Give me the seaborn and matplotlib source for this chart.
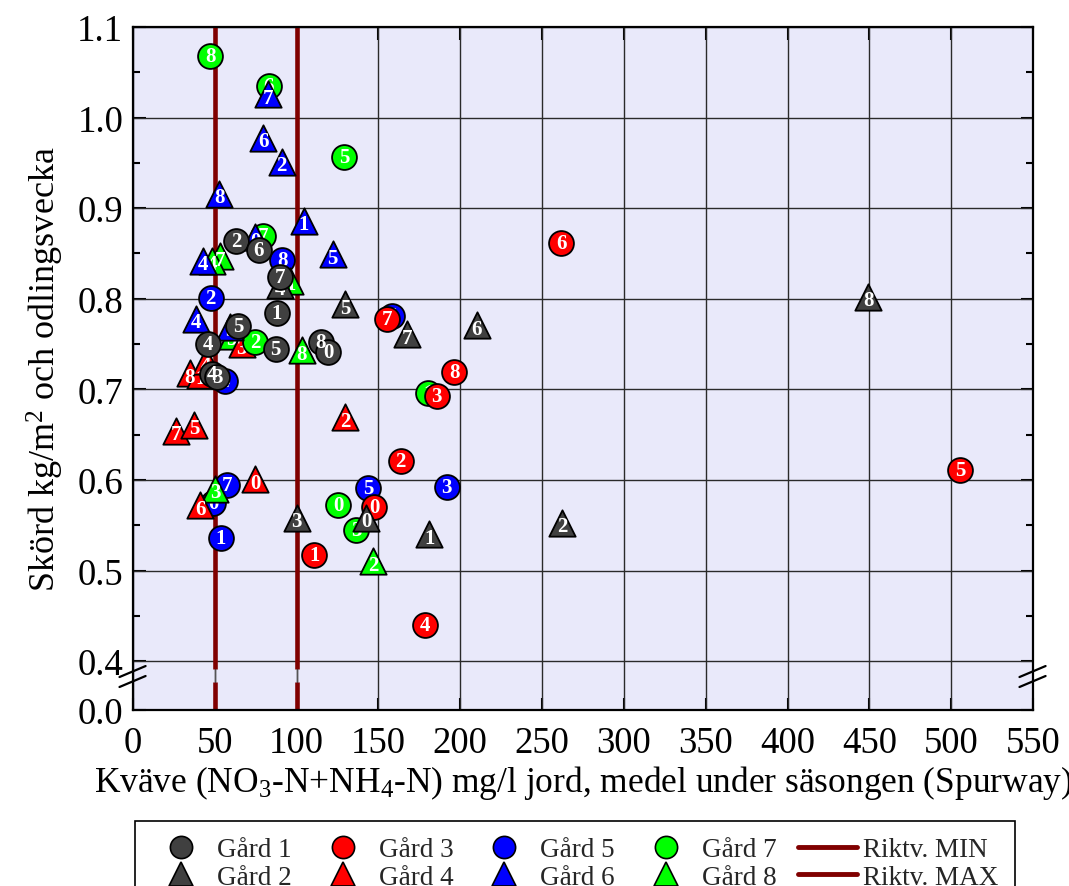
import numpy as np
import pandas as pd
import matplotlib
matplotlib.use("Agg")
import matplotlib.pyplot as plt
from matplotlib.lines import Line2D
from matplotlib.ticker import FixedLocator
import seaborn as sns

# --- data: nitrogen (mg/l soil) vs yield per growing week, one list set per farm ---
gard1_x = [62.9, 76.8, 89.8, 87.8, 64.4, 46.0, 87.2, 114.7, 119.4, 48.0, 51.5]
gard1_y = [0.864, 0.854, 0.824, 0.784, 0.770, 0.750, 0.745, 0.752, 0.741, 0.717, 0.714]
gard1_lbl = ["2", "6", "7", "1", "5", "4", "5", "8", "0", "4", "3"]

gard2_x = [449.2, 210.0, 167.3, 129.6, 100.0, 142.4, 181.1, 262.2, 89.8]
gard2_y = [0.802, 0.771, 0.761, 0.794, 0.558, 0.558, 0.540, 0.553, 0.815]
gard2_lbl = ["8", "6", "7", "5", "3", "0", "1", "2", "4"]

gard3_x = [261.6, 155.0, 196.2, 185.6, 163.6, 147.3, 110.8, 178.4, 505.4]
gard3_y = [0.862, 0.778, 0.719, 0.693, 0.621, 0.570, 0.517, 0.440, 0.611]
gard3_lbl = ["6", "7", "8", "3", "2", "0", "1", "4", "5"]

gard4_x = [34.8, 41.0, 44.6, 66.4, 129.6, 26.1, 37.2, 74.6, 41.0]
gard4_y = [0.718, 0.716, 0.731, 0.750, 0.669, 0.654, 0.661, 0.601, 0.572]
gard4_lbl = ["8", "1", "4", "3", "2", "7", "5", "0", "6"]

gard5_x = [91.2, 47.5, 143.8, 191.7, 53.6, 57.3, 49.0, 158.0, 56.2]
gard5_y = [0.843, 0.801, 0.591, 0.592, 0.536, 0.594, 0.575, 0.781, 0.709]
gard5_lbl = ["8", "2", "5", "3", "1", "7", "0", "6", "4"]

gard6_x = [82.7, 79.6, 90.9, 52.6, 104.5, 122.0, 43.0, 38.5, 59.3, 74.6]
gard6_y = [1.026, 0.978, 0.951, 0.916, 0.886, 0.849, 0.842, 0.778, 0.769, 0.868]
gard6_lbl = ["7", "6", "2", "8", "1", "5", "4", "4", "3", "0"]

gard7_x = [47.3, 83.1, 129.0, 79.3, 74.6, 125.5, 136.3, 180.5]
gard7_y = [1.068, 1.035, 0.957, 0.869, 0.752, 0.572, 0.545, 0.696]
gard7_lbl = ["8", "6", "5", "7", "2", "0", "3", "1"]

gard8_x = [53.2, 48.0, 103.1, 50.1, 146.9, 96.0, 60.3]
gard8_y = [0.847, 0.842, 0.743, 0.590, 0.510, 0.820, 0.759]
gard8_lbl = ["7", "4", "8", "3", "2", "1", "5"]

# guideline values (Riktv. MIN / MAX)
riktv_min = 50
riktv_max = 100

farm_names = ["Gård 1", "Gård 2", "Gård 3", "Gård 4",
              "Gård 5", "Gård 6", "Gård 7", "Gård 8"]
farm_x = [gard1_x, gard2_x, gard3_x, gard4_x, gard5_x, gard6_x, gard7_x, gard8_x]
farm_y = [gard1_y, gard2_y, gard3_y, gard4_y, gard5_y, gard6_y, gard7_y, gard8_y]
farm_lbl = [gard1_lbl, gard2_lbl, gard3_lbl, gard4_lbl,
            gard5_lbl, gard6_lbl, gard7_lbl, gard8_lbl]

frames = []
for name, xs, ys, ls in zip(farm_names, farm_x, farm_y, farm_lbl):
    frames.append(pd.DataFrame({"farm": name, "kvave": xs, "skord": ys, "lbl": ls}))
df = pd.concat(frames, ignore_index=True)

# --- styling ---
colors = {"Gård 1": "#404040", "Gård 2": "#404040",
          "Gård 3": "#FF0000", "Gård 4": "#FF0000",
          "Gård 5": "#0000FF", "Gård 6": "#0000FF",
          "Gård 7": "#00FF00", "Gård 8": "#00FF00"}
markers = {n: ("o" if i % 2 == 0 else "^") for i, n in enumerate(farm_names)}
# stacking order of the farms (last drawn on top)
draw_order = ["Gård 5", "Gård 8", "Gård 4", "Gård 7",
              "Gård 6", "Gård 3", "Gård 2", "Gård 1"]
line_color = "#800000"
bg_color = "#E9E9FA"
y_floor = 0.346          # bottom of the broken y axis, labelled 0.0
gap_lo, gap_hi = 0.377, 0.391

sns.set_theme(style="ticks")
plt.rcParams["font.family"] = ["Liberation Serif", "DejaVu Serif"]
plt.rcParams["mathtext.fontset"] = "custom"
plt.rcParams["mathtext.rm"] = "Liberation Serif"
plt.rcParams["mathtext.it"] = "Liberation Serif:italic"
plt.rcParams["mathtext.bf"] = "Liberation Serif:bold"

fig = plt.figure(figsize=(10.69, 8.87), dpi=100)
ax = fig.add_axes([0.1244, 0.1984, 0.8419, 0.7700])
ax.set_facecolor(bg_color)

ax.set_xlim(0, 550)
ax.set_ylim(y_floor, 1.1)

# grid
for xv in np.arange(0, 551, 50):
    ax.axvline(xv, color="#2a2a2a", lw=1.0, zorder=1)
for yv in np.arange(0.4, 1.101, 0.1):
    ax.axhline(yv, color="#2a2a2a", lw=1.0, zorder=1)

# guideline verticals, interrupted at the axis break
for xv in (riktv_min, riktv_max):
    ax.vlines(xv, gap_hi, 1.1, color=line_color, lw=3.3, zorder=2)
    ax.vlines(xv, y_floor, gap_lo, color=line_color, lw=3.3, zorder=2)
    ax.vlines(xv, gap_lo, gap_hi, color="#555555", lw=1.0, zorder=2)

# points and their number labels
for z, name in enumerate(draw_order):
    sub = df[df["farm"] == name]
    zbase = 3 + 2 * z
    tri = markers[name] == "^"
    sns.scatterplot(data=sub, x="kvave", y="skord", ax=ax,
                    marker=markers[name], color=colors[name],
                    s=360 if tri else 320, edgecolor="black", linewidth=1.3,
                    zorder=zbase, legend=False)
    for _, r in sub.iterrows():
        ax.annotate(r["lbl"], (r["kvave"], r["skord"]),
                    xytext=(0, -2.5 if tri else 0), textcoords="offset points",
                    ha="center", va="center", color="white",
                    fontsize=15, fontweight="bold", zorder=zbase + 1)

# ticks
ax.set_xticks(np.arange(0, 551, 50))
ax.set_xticklabels([str(v) for v in range(0, 551, 50)])
yt = [y_floor] + [round(v, 1) for v in np.arange(0.4, 1.101, 0.1)]
ax.set_yticks(yt)
ax.set_yticklabels(["0.0"] + [f"{v:.1f}" for v in yt[1:]])
ax.yaxis.set_minor_locator(FixedLocator(np.arange(0.45, 1.1, 0.1)))
ax.tick_params(which="both", direction="in", top=True, right=True,
               width=1.5, labelsize=26.5, color="black", labelcolor="black")
ax.tick_params(which="major", length=9)
ax.tick_params(which="minor", length=5)
ax.tick_params(axis="x", pad=11)
ax.tick_params(axis="y", pad=7)
for sp in ax.spines.values():
    sp.set_linewidth(1.6)
    sp.set_color("black")
    sp.set_zorder(30)

ax.set_xlabel("Kväve (NO$_3$-N+NH$_4$-N) mg/l jord, medel under säsongen (Spurway)",
              fontsize=25.5, color="black", labelpad=2)
ax.set_ylabel("Skörd kg/m$^2$ och odlingsvecka", fontsize=26, color="black",
              labelpad=8)

# axis break marks on both side spines
for x0 in (0.0, 1.0):
    for yb in (0.0337, 0.0483):
        ax.plot([x0 - 0.0150, x0 + 0.0140], [yb, yb + 0.0161],
                transform=ax.transAxes, color="black", lw=1.6,
                clip_on=False, zorder=40)

# legend
handles = []
for name in farm_names:
    tri = markers[name] == "^"
    handles.append(Line2D([], [], ls="none", marker=markers[name],
                          color=colors[name], markeredgecolor="black",
                          markersize=17 if tri else 16, markeredgewidth=1.2,
                          label=name))
handles.append(Line2D([], [], color=line_color, lw=3.5, label="Riktv. MIN"))
handles.append(Line2D([], [], color=line_color, lw=3.5, label="Riktv. MAX"))
leg = fig.legend(handles=handles, loc="upper left",
                 bbox_to_anchor=(135 / 1069, 0.0, 880 / 1069, 1 - 822 / 887),
                 mode="expand", ncol=5,
                 fontsize=19.5, frameon=True, fancybox=False, framealpha=1,
                 edgecolor="black", borderpad=0.6, labelspacing=0.1,
                 handlelength=2.2, handletextpad=0.22, columnspacing=0.5,
                 borderaxespad=0)
leg.get_frame().set_linewidth(1.2)

fig.savefig("out.png", dpi=100, facecolor="white")
